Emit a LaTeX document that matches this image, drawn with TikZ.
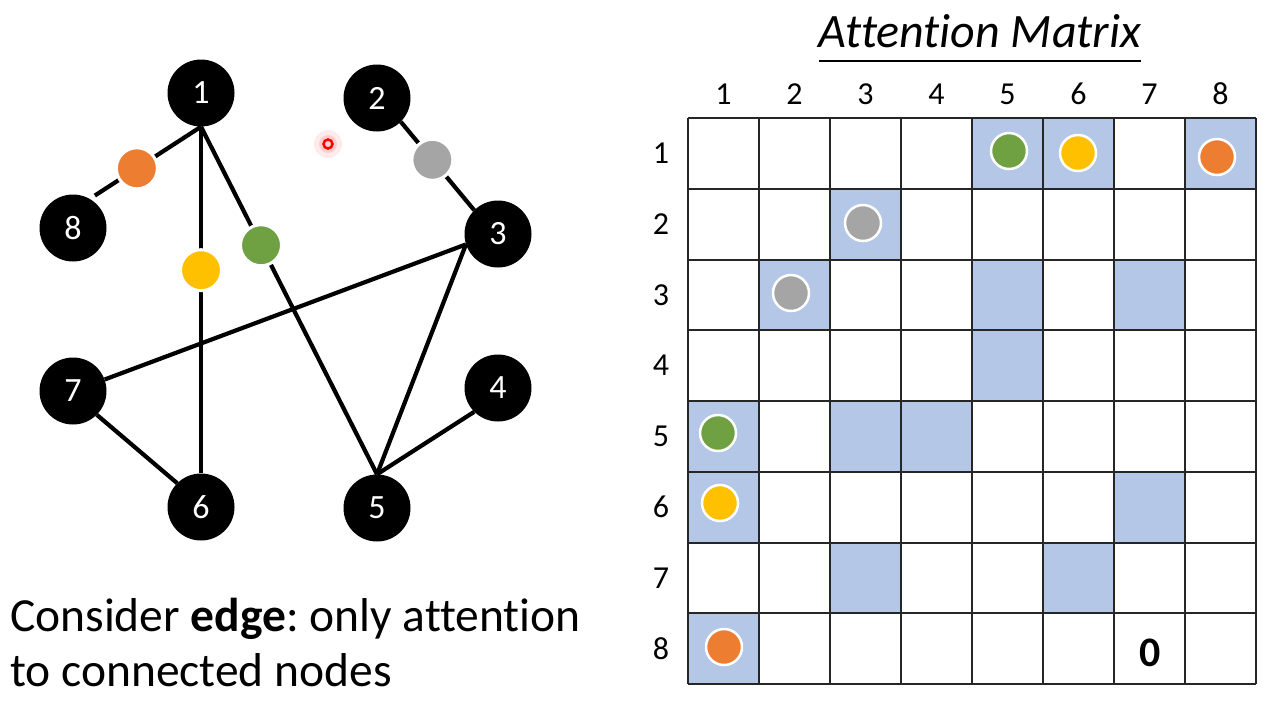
\documentclass[tikz,border=0pt]{standalone}
\usepackage{fontspec}
\setmainfont[Ligatures=CommonOff]{Carlito}
\definecolor{cOrange}{HTML}{ED7D31}
\definecolor{cYellow}{HTML}{FFC000}
\definecolor{cGreen}{HTML}{6FA142}
\definecolor{cGray}{HTML}{A5A5A5}
\definecolor{cShade}{HTML}{B4C7E7}
\frenchspacing
\begin{document}
\begin{tikzpicture}[x=1pt,y=-1pt,
  gnode/.style={circle,fill=black,minimum size=67pt,inner sep=0pt,text=white,font=\fontsize{34}{40}\selectfont},
  edge/.style={line width=4.2pt,black},
  gdot/.style={circle,minimum size=41pt,inner sep=0pt,draw=white,line width=3pt},
  mdot/.style={circle,minimum size=36pt,inner sep=0pt,draw=white,line width=2.5pt},
  lab/.style={inner sep=0pt,font=\fontsize{32}{38}\selectfont},
  gridline/.style={line width=2pt,black!85},
  bodytext/.style={inner sep=0pt,anchor=base west,font=\fontsize{47.5}{55}\selectfont}]
\useasboundingbox (0,0) rectangle (1276,713);
\fill[white] (0,0) rectangle (1276,713);

% graph nodes
\node[gnode] (n1) at (201,93) {1};
\node[gnode] (n2) at (377,98) {2};
\node[gnode] (n3) at (498,234) {3};
\node[gnode] (n4) at (498,388) {4};
\node[gnode] (n5) at (377,508) {5};
\node[gnode] (n6) at (201,507) {6};
\node[gnode] (n7) at (73,391) {7};
\node[gnode] (n8) at (73,228) {8};

% edges with attention dots
\draw[edge,shorten >=6pt] (n1.south) -- node[gdot,fill=cOrange,pos=0.577] (d18) {} (n8.60);
\draw[edge] (n1.south) -- node[gdot,fill=cYellow,pos=0.414] (d16) {} (n6.north);
\draw[edge] (n1.south) -- node[gdot,fill=cGreen,pos=0.341] (d15) {} (n5.north);
\draw[edge] (n2.south east) -- node[gdot,fill=cGray,pos=0.43] (d23) {} (n3.north west);
\draw[edge] (n3.198) -- (n7.20);
\draw[edge] (n3.198) -- (n5.north);
\draw[edge] (n4.south west) -- (n5.north);
\draw[edge] (n7.south east) -- (n6.north west);

% laser pointer dot
\fill[red,opacity=0.08] (328,144) circle (14);
\fill[red,opacity=0.12] (328,144) circle (9);
\draw[red,line width=2.5pt] (328,144) circle (4.5);

% caption
\node[bodytext] (cap1) at (10,631) {Consider \textbf{edge}: only attention};
\node[bodytext] (cap2) at (10,686) {to connected nodes};

% attention matrix title
\node[inner sep=0pt,anchor=base,font=\fontsize{48}{56}\selectfont\itshape] (title) at (980,47) {Attention Matrix};
\draw[line width=2pt] ([yshift=-14pt]title.base west) -- ([yshift=-14pt]title.base east);

% shaded cells
\foreach \r/\c in {1/5,1/6,1/8,2/3,3/2,3/5,3/7,4/5,5/1,5/3,5/4,6/1,6/7,7/3,7/6,8/1}
  \fill[cShade] ({688+71*(\c-1)},{118+70.75*(\r-1)}) rectangle ++(71,70.75);

% grid
\foreach \i in {0,...,8} {
  \draw[gridline] ({688+71*\i},118) -- ({688+71*\i},684);
  \draw[gridline] (688,{118+70.75*\i}) -- (1256,{118+70.75*\i});
}

% labels
\foreach \i in {1,...,8} {
  \node[lab] (c\i) at ({688+71*(\i-0.5)},94) {\i};
  \node[lab] (r\i) at (661,{118+70.75*(\i-0.5)}) {\i};
}

% matrix dots
\node[mdot,fill=cGreen] (m15) at (1009,151) {};
\node[mdot,fill=cYellow] (m16) at (1078,153) {};
\node[mdot,fill=cOrange] (m18) at (1217,157) {};
\node[mdot,fill=cGray] (m23) at (863,223) {};
\node[mdot,fill=cGray] (m32) at (791,293) {};
\node[mdot,fill=cGreen] (m51) at (718,433) {};
\node[mdot,fill=cYellow] (m61) at (720,503) {};
\node[mdot,fill=cOrange] (m81) at (724,647) {};

% zero
\node[inner sep=0pt,font=\fontsize{42}{50}\selectfont\bfseries] (zero) at (1150,653) {0};
\end{tikzpicture}
\end{document}
